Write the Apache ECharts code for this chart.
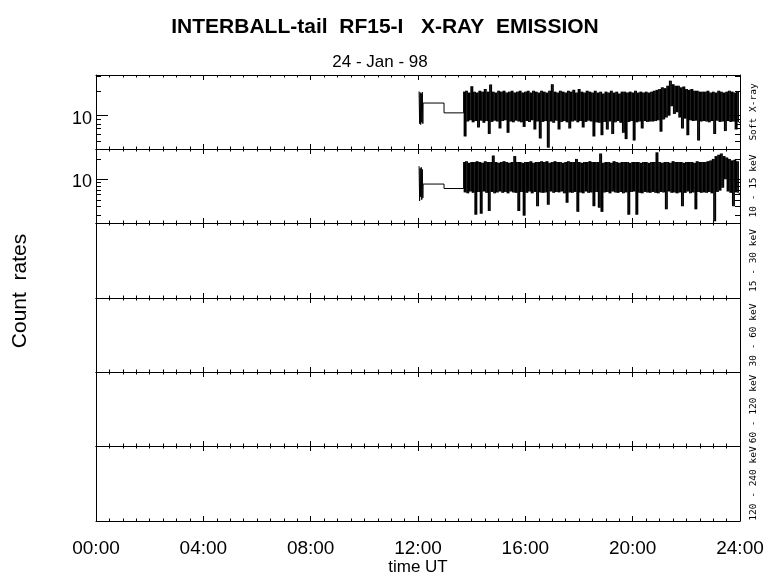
<!DOCTYPE html>
<html><head><meta charset="utf-8">
<script src="https://cdn.jsdelivr.net/npm/echarts@6/dist/echarts.min.js"></script>
<style>html,body{margin:0;padding:0;background:#fff}#c{width:780px;height:579px}</style>
</head><body><div id="c"></div>
<script>
// ---------------- data ----------------
const timeTickLabels = ['00:00','04:00','08:00','12:00','16:00','20:00','24:00'];
const bandLabels = ['Soft X-ray','10 - 15 keV','15 - 30 keV','30 - 60 keV','60 - 120 keV','120 - 240 keV'];
const logMinorTicks = [2,3,4,5,6,7,8,9,20,30];
const logMajorTicks = [10];

// Soft X-ray panel
const softBurstTimes  = [12.04,12.06,12.08,12.10,12.12,12.14,12.16,12.18];
const softBurstValues = [19.6,8.0,19.0,7.8,18.5,8.3,19.2,8.0];
const softStepTimes   = [12.19,12.97];
const softStepValues  = [14.2,10.8];
// 10 - 15 keV panel
const hardBurstTimes  = [12.04,12.06,12.08,12.10,12.12,12.14,12.16,12.18];
const hardBurstValues = [15.6,4.8,14.5,5.5,15.0,5.0,14.0,5.3];
const hardStepTimes   = [12.19,12.97];
const hardStepValues  = [8.5,7.3];

// dense record from 13:42 UT, one reading every 3 min
const noiseStartHour = 13.70;
const noiseStepHour = 0.05;
const softNoise = [
19.5,5.6,20,8.5,19,8.8,22.7,8.3,19.5,8.6,19,7.2,20,8.7,19.5,8.2,21,8.6,19.5,6,
23.8,8.4,19.5,8.7,19,8.5,20,7,19.5,8.6,20,8.8,19,6.2,19.5,8.5,20,8.3,19,8.7,
19.5,8.5,20,8.3,19,7.3,19.5,8.6,20,8.4,19,8.8,20,6.8,19.5,8.5,19,5.3,20,8.4,
19.5,8.6,19,4.1,20,8.5,24,8.2,19.5,8.7,19,6.8,20,8.4,19.5,8.6,19,8.3,20,7,
19.5,8.5,20.5,8.7,19,8.3,21,8.6,19.5,7.2,19,8.4,20,8.7,19.5,8.5,19,5.6,20,8.3,
19,8.2,19.5,5.8,18.5,8.4,19.5,6.8,19,8.5,20,6,19,8.3,19.5,8.6,18.5,8.2,19.5,6.2,
19.5,5.2,19,8.4,19.5,8.6,19,5,20,8.3,19,8.5,19.5,7,19,8.6,19.5,8.4,19,8.5,
19.5,8.5,20,8.6,20.5,8.8,21,6.4,22,9,21.5,9.5,23,10,26.5,13,24,10.5,23,11,
23,9.5,22,7,22.5,9.2,21,5.8,20.5,8.8,21,8.6,20,8.7,20,5,19.5,8.5,19.5,8.6,
19.5,8.5,20,8.3,19,8.6,19.5,6,19,8.7,20,8.4,19.5,8.5,19,6.5,19.5,8.6,20,8.4,
19.5,8.5,19,6.8,19.5,8.4
];
const hardNoise = [
18,6.4,18.5,6.2,17.5,6.6,18,6.3,18,3.0,18.5,6.5,18,3.1,17.5,6.6,18.5,6.3,18,3.4,
18,6.5,22.4,6.2,18,6.4,17.5,6.6,18,6.3,18.5,6.5,18,6.2,17.5,6.6,18,6.4,22,6.3,
18,3.4,18,6.5,17.5,2.9,18,6.3,18,6.6,18.5,6.2,17.5,6.5,18,4.0,18,6.4,18.5,6.3,
18,6.4,18.5,4.2,17.5,6.6,18,6.3,18.5,6.5,18,6.4,18,6.6,17.5,6.2,18,4.5,18.5,6.4,
18,6.3,18,6.5,20,3.3,18,6.4,17.5,6.2,18,6.6,18,6.3,18.5,6.4,18,4,18,6.5,
18,3.8,24,3.3,17.5,6.4,18,6.5,18,6.2,17.5,6.6,18.5,6.4,18,6.3,17.5,6.5,18,6.2,
18,6.4,18,3.0,17.5,6.5,18,6.6,18,3.0,18,6.3,17.5,6.2,18,6.5,18,6.4,17.5,6.3,
18,6.5,18,6.3,25,6.2,18,6.5,17.5,6.4,18,3.6,18,6.6,17.5,6.3,18.5,6.4,18,6.2,
18,6.4,18,4,17.5,6.3,18,6.6,18,6.2,18,6.4,17.5,3.6,18.5,6.5,18,6.3,18,6.4,
18,6.3,18.5,6.5,19,6.2,20,2.4,22,6.5,23,6.8,24,7.5,22,10,21,6.6,20,6.3,
19,4,19.5,6.4,18.5,6.3
];
const panelYRanges = [[3.95,31],[2.26,28]];

// ---------------- chart ----------------
function buildStepData(bt, bv, st, sv, noise) {
  const d = [];
  bt.forEach((t, k) => d.push([t, bv[k]]));
  st.forEach((t, k) => d.push([t, sv[k]]));
  d.push([noiseStartHour, noise[0]]);
  return d;
}
// each item: one reading and the next one -> the span the trace sweeps between them
function buildNoiseData(noise) {
  const d = [];
  for (let k = 0; k < noise.length; k++) {
    const t0 = noiseStartHour + k * noiseStepHour;
    const v1 = k + 1 < noise.length ? noise[k + 1] : noise[k];
    d.push([t0, noise[k], t0 + noiseStepHour, v1]);
  }
  return d;
}
const panelStepData = [
  buildStepData(softBurstTimes, softBurstValues, softStepTimes, softStepValues, softNoise),
  buildStepData(hardBurstTimes, hardBurstValues, hardStepTimes, hardStepValues, hardNoise)
];
const panelNoiseData = [buildNoiseData(softNoise), buildNoiseData(hardNoise)];

const FONT = 'Liberation Sans';
const MONO = 'DejaVu Sans Mono';
const L = 96, W = 644;
const tops = [75,149,223,298,372,446];
const heights = [74,74,75,74,74,75];
const grids = [], xAxes = [], yAxes = [], series = [];

for (let i = 0; i < 6; i++) {
  grids.push({left: L, top: tops[i], width: W, height: heights[i]});
  const isLast = i === 5;
  const xCommon = {
    type: 'value', gridIndex: i, min: 0, max: 24, interval: 4,
    axisLine: {show: true, onZero: false, lineStyle: {color: '#000', width: 1}},
    axisTick: {show: true, inside: true, length: 5, lineStyle: {color: '#000', width: 1}},
    minorTick: {show: true, splitNumber: 8, length: 2.5, lineStyle: {color: '#000', width: 1}},
    splitLine: {show: false}, minorSplitLine: {show: false}
  };
  xAxes.push(Object.assign({}, xCommon, {
    position: 'bottom',
    axisLabel: {show: isLast, margin: 18, fontSize: 19, color: '#000', fontFamily: FONT,
      formatter: v => timeTickLabels[Math.round(v / 4)]},
    name: isLast ? 'time UT' : '', nameLocation: 'middle', nameGap: 38,
    nameTextStyle: {fontSize: 17, color: '#000', fontFamily: FONT}
  }));
  xAxes.push(Object.assign({}, xCommon, {position: 'top', axisLabel: {show: false}}));

  const rightName = {
    name: bandLabels[i], nameLocation: 'middle', nameGap: 9, nameRotate: 90,
    nameTextStyle: {fontSize: 9.5, color: '#000', fontFamily: MONO}
  };
  if (i < 2) {
    const [mn, mx] = panelYRanges[i];
    const yCommon = {
      type: 'log', logBase: 10, gridIndex: i, min: mn, max: mx,
      axisLine: {show: true, onZero: false, lineStyle: {color: '#000', width: 1}},
      axisTick: {show: true, inside: true, length: 12, lineStyle: {color: '#000', width: 1}},
      splitLine: {show: false}
    };
    yAxes.push(Object.assign({}, yCommon, {
      position: 'left',
      axisLabel: {show: true, margin: 4, color: '#000',
        showMinLabel: false, showMaxLabel: false,
        formatter: v => logMajorTicks.some(m => Math.abs(v - m) < 1e-6) ? '{a|' + v + '}' : '',
        rich: {a: {fontSize: 18, fontFamily: FONT, color: '#000', padding: [6, 0, 0, 0]}}}
    }));
    yAxes.push(Object.assign({}, yCommon, {position: 'right', axisLabel: {show: false}}, rightName));

    series.push({
      type: 'line', xAxisIndex: 2 * i, yAxisIndex: 2 * i, data: panelStepData[i],
      step: 'end', showSymbol: false, symbol: 'none', animation: false,
      lineStyle: {color: '#000', width: 1}, silent: true
    });
    series.push({
      type: 'custom', xAxisIndex: 2 * i, yAxisIndex: 2 * i, animation: false, silent: true,
      data: panelNoiseData[i],
      encode: {x: [0, 2], y: [1, 3]},
      renderItem: (params, api) => {
        const a = api.coord([api.value(0), api.value(1)]);
        const b = api.coord([api.value(2), api.value(3)]);
        const y0 = Math.min(a[1], b[1]), y1 = Math.max(a[1], b[1]);
        return {type: 'rect', shape: {x: a[0], y: y0, width: b[0] - a[0] + 0.3, height: Math.max(1, y1 - y0)},
                style: {fill: '#000'}};
      }
    });
    series.push({
      type: 'custom', xAxisIndex: 2 * i, yAxisIndex: 2 * i, animation: false, silent: true,
      data: logMinorTicks.map(v => [0, v]),
      renderItem: (params, api) => {
        const v = api.value(1);
        const pL = api.coord([0, v]);
        const pR = api.coord([24, v]);
        const cs = params.coordSys;
        if (pL[1] < cs.y + 0.5 || pL[1] > cs.y + cs.height - 0.5) return null;
        const y = Math.round(pL[1]) + 0.5;
        return {type: 'group', children: [
          {type: 'line', shape: {x1: pL[0], y1: y, x2: pL[0] + 5, y2: y}, style: {stroke: '#000', lineWidth: 1}},
          {type: 'line', shape: {x1: pR[0], y1: y, x2: pR[0] - 5, y2: y}, style: {stroke: '#000', lineWidth: 1}}
        ]};
      }
    });
  } else {
    const yCommon = {
      type: 'value', gridIndex: i, min: 0, max: 1,
      axisLine: {show: true, onZero: false, lineStyle: {color: '#000', width: 1}},
      axisTick: {show: false}, axisLabel: {show: false}, splitLine: {show: false}
    };
    yAxes.push(Object.assign({}, yCommon, {position: 'left'}));
    yAxes.push(Object.assign({}, yCommon, {position: 'right'}, rightName));
  }
}

const chart = echarts.init(document.getElementById('c'));
chart.setOption({
  backgroundColor: '#fff',
  animation: false,
  graphic: [
    {type: 'text', x: 385, y: 27,
     style: {text: 'INTERBALL-tail  RF15-I   X-RAY  EMISSION', fontSize: 21, fontWeight: 'bold', fontFamily: FONT,
             fill: '#000', align: 'center', verticalAlign: 'middle'}},
    {type: 'text', x: 380, y: 62,
     style: {text: '24 - Jan - 98', fontSize: 17, fontFamily: FONT, fill: '#000', align: 'center', verticalAlign: 'middle'}},
    {type: 'text', x: 20, y: 291, rotation: Math.PI / 2,
     style: {text: 'Count  rates', fontSize: 21, fontFamily: FONT, fill: '#000', align: 'center', verticalAlign: 'middle'}}
  ],
  grid: grids, xAxis: xAxes, yAxis: yAxes, series: series
});
</script></body></html>
